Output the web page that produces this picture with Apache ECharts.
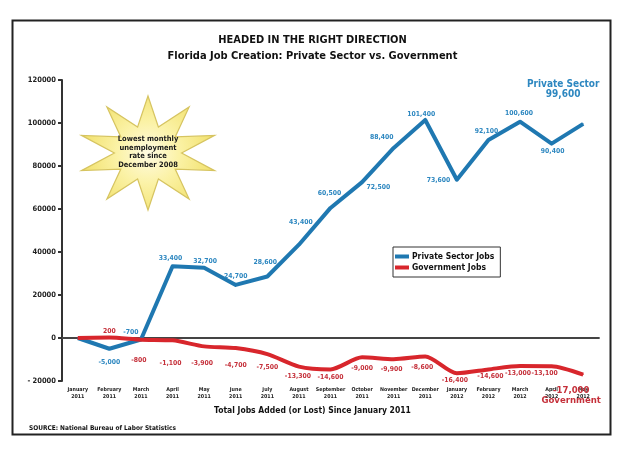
<!DOCTYPE html>
<html><head><meta charset="utf-8">
<script src="https://cdn.jsdelivr.net/npm/echarts/dist/echarts.min.js"></script>
<style>html,body{margin:0;padding:0;background:#fff}#c{width:625px;height:457px}</style>
</head><body><div id="c"></div>
<script>
// ---- data ----
const categories = ['January\n2011','February\n2011','March\n2011','April\n2011','May\n2011','June\n2011','July\n2011','August\n2011','September\n2011','October\n2011','November\n2011','December\n2011','January\n2012','February\n2012','March\n2012','April\n2012','May\n2012'];
const privateJobs = [0,-5000,-700,33400,32700,24700,28600,43400,60500,72500,88400,101400,73600,92100,100600,90400,99600];
const governmentJobs = [0,200,-800,-1100,-3900,-4700,-7500,-13300,-14600,-9000,-9900,-8600,-16400,-14600,-13000,-13100,-17000];
const yMin = -20000, yMax = 120000, yStep = 20000;
const seriesNames = ['Private Sector Jobs','Government Jobs'];
const endNames = ['Private Sector','Government'];

// ---- label placement (style only) ----
const privPlace = [null,
 {p:'bottom',d:9},{p:'left',d:4,o:[2,-7]},{p:'top',d:4,o:[-2,0]},{p:'top',d:2.5,o:[1,0]},{p:'top',d:5},
 {p:'top',d:10,o:[-2,0]},{p:'top',d:18,o:[2,0]},{p:'top',d:11,o:[-1,0]},{p:'right',d:4,o:[0,5]},
 {p:'top',d:7,o:[-12,0]},{p:'top',d:2,o:[-4,0]},{p:'left',d:6},{p:'top',d:5,o:[-2,0]},
 {p:'top',d:4,o:[-1,0]},{p:'bottom',d:4,o:[1,0]},'end'];
const govPlace = [null,
 {p:'top',d:2.5},{p:'bottom',d:17,o:[-2,0]},{p:'bottom',d:18.5,o:[-2,0]},{p:'bottom',d:12.5,o:[-2,0]},{p:'bottom',d:13},
 {p:'bottom',d:9},{p:'bottom',d:5.5,o:[-1,0]},{p:'bottom',d:3.5},{p:'bottom',d:6.5},
 {p:'bottom',d:5.5,o:[-2,0]},{p:'bottom',d:6.5,o:[-3,0]},{p:'bottom',d:2.7,o:[-2,0]},{p:'bottom',d:2.6,o:[2,0]},
 {p:'bottom',d:3,o:[-2,0]},{p:'bottom',d:2.8,o:[-7,0]},'end'];

const FONT = "'Liberation Sans Narrow','DejaVu Sans Condensed','Liberation Sans',Arial,sans-serif";
const BLUE = '#1f78b1', BLUE_T = '#2d87c0', RED = '#d8262c', RED_T = '#c5303a';
const fmt = v => (v < 0 ? '-' : '') + Math.abs(v).toLocaleString('en-US');

function buildData(values, place, color, endCfg) {
  return values.map((v, i) => {
    const pl = place[i];
    if (!pl) return {value: v, label: {show: false}};
    if (pl === 'end') {
      return {value: v, label: Object.assign({
        show: true, color: color, fontFamily: FONT, fontWeight: 'bold', fontSize: 10,
        lineHeight: 10, align: 'center'
      }, endCfg)};
    }
    return {value: v, label: {
      show: true, position: pl.p, distance: pl.d, offset: pl.o || [0,0],
      formatter: fmt(v), color: color, fontFamily: FONT, fontWeight: 'bold', fontSize: 6.8
    }};
  });
}

// star geometry (decoration)
function starPoints(cx, cy, rx, ry, inner, n) {
  const pts = [];
  for (let i = 0; i < n * 2; i++) {
    const a = -Math.PI / 2 + i * Math.PI / n;
    const r = i % 2 === 0 ? 1 : inner;
    pts.push([cx + Math.cos(a) * rx * r, cy + Math.sin(a) * ry * r]);
  }
  return pts;
}

const chart = echarts.init(document.getElementById('c'));
chart.setOption({
  backgroundColor: '#fff',
  animation: false,
  title: [
    {text: 'HEADED IN THE RIGHT DIRECTION', left: 'center', top: 30,
     textStyle: {fontFamily: FONT, fontWeight: 'bold', fontSize: 11, color: '#111'}},
    {text: 'Florida Job Creation: Private Sector vs. Government', left: 'center', top: 46,
     textStyle: {fontFamily: FONT, fontWeight: 'bold', fontSize: 11, color: '#111'}},
    {text: 'Total Jobs Added (or Lost) Since January 2011', left: 'center', top: 401,
     textStyle: {fontFamily: FONT, fontWeight: 'bold', fontSize: 8.5, color: '#111'}},
    {text: 'SOURCE: National Bureau of Labor Statistics', left: 24, top: 420,
     textStyle: {fontFamily: FONT, fontWeight: 'bold', fontSize: 6.5, color: '#111'}}
  ],
  graphic: [
    {type: 'rect', left: 10, top: 18, shape: {width: 598, height: 414}, z: -1,
     style: {fill: 'none', stroke: '#222', lineWidth: 2}},
    {type: 'polygon', shape: {points: starPoints(148, 153, 70, 57, 0.48, 10)}, z: 0,
     style: {fill: new echarts.graphic.RadialGradient(0.5, 0.5, 0.6, [
       {offset: 0, color: '#fffbe2'}, {offset: 0.45, color: '#fbf2a6'}, {offset: 1, color: '#f1e06a'}]),
       stroke: '#d6c461', lineWidth: 1.2}},
    {type: 'text', x: 148, y: 152, z: 1,
     style: {text: 'Lowest monthly\nunemployment\nrate since\nDecember 2008',
       align: 'center', verticalAlign: 'middle', fontFamily: FONT, fontWeight: 'bold',
       fontSize: 7.5, lineHeight: 8.8, fill: '#1a1a1a'}}
  ],
  legend: {
    data: seriesNames, orient: 'vertical', left: 393, top: 247,
    itemWidth: 14, itemHeight: 4, itemGap: 2, icon: 'rect',
    padding: [5, 6, 5, 2], borderColor: '#333', borderWidth: 1, backgroundColor: '#fff',
    textStyle: {fontFamily: FONT, fontWeight: 'bold', fontSize: 8.5, color: '#111', padding: [0,0,0,-2]}
  },
  grid: {left: 62, right: 26, top: 80, bottom: 76, containLabel: false},
  xAxis: {
    type: 'category', data: categories, boundaryGap: true,
    axisLine: {onZero: true, lineStyle: {color: '#444', width: 1.8}},
    axisTick: {show: false},
    axisLabel: {interval: 0, margin: 5, fontFamily: FONT, fontWeight: 'bold', fontSize: 5.3, lineHeight: 7, color: '#222'},
    splitLine: {show: false}
  },
  yAxis: {
    type: 'value', min: yMin, max: yMax, interval: yStep,
    axisLine: {show: true, onZero: false, lineStyle: {color: '#333', width: 2}},
    axisTick: {show: true, length: 4, lineStyle: {color: '#333', width: 2}},
    axisLabel: {margin: 6, fontFamily: FONT, fontWeight: 'bold', fontSize: 7.5, color: '#222',
      formatter: v => v < 0 ? '- ' + Math.abs(v) : String(v)},
    splitLine: {show: false}
  },
  series: [
    {name: seriesNames[0], type: 'line', color: BLUE, symbol: 'circle', symbolSize: 1, showSymbol: true,
     lineStyle: {width: 4, color: BLUE, join: 'round'}, itemStyle: {color: BLUE}, z: 3,
     data: buildData(privateJobs, privPlace, BLUE_T,
       {position: 'top', distance: 24, offset: [-20, 0],
        formatter: endNames[0] + '\n' + fmt(privateJobs[privateJobs.length - 1])})},
    {name: seriesNames[1], type: 'line', color: RED, symbol: 'circle', symbolSize: 1, showSymbol: true,
     smooth: 0.25,
     lineStyle: {width: 4, color: RED, join: 'round'}, itemStyle: {color: RED}, z: 4,
     data: buildData(governmentJobs, govPlace, RED_T,
       {position: 'bottom', distance: 10, offset: [-12, 0], fontSize: 9.5,
        formatter: fmt(governmentJobs[governmentJobs.length - 1]) + '\n' + endNames[1]})}
  ]
});
</script></body></html>
